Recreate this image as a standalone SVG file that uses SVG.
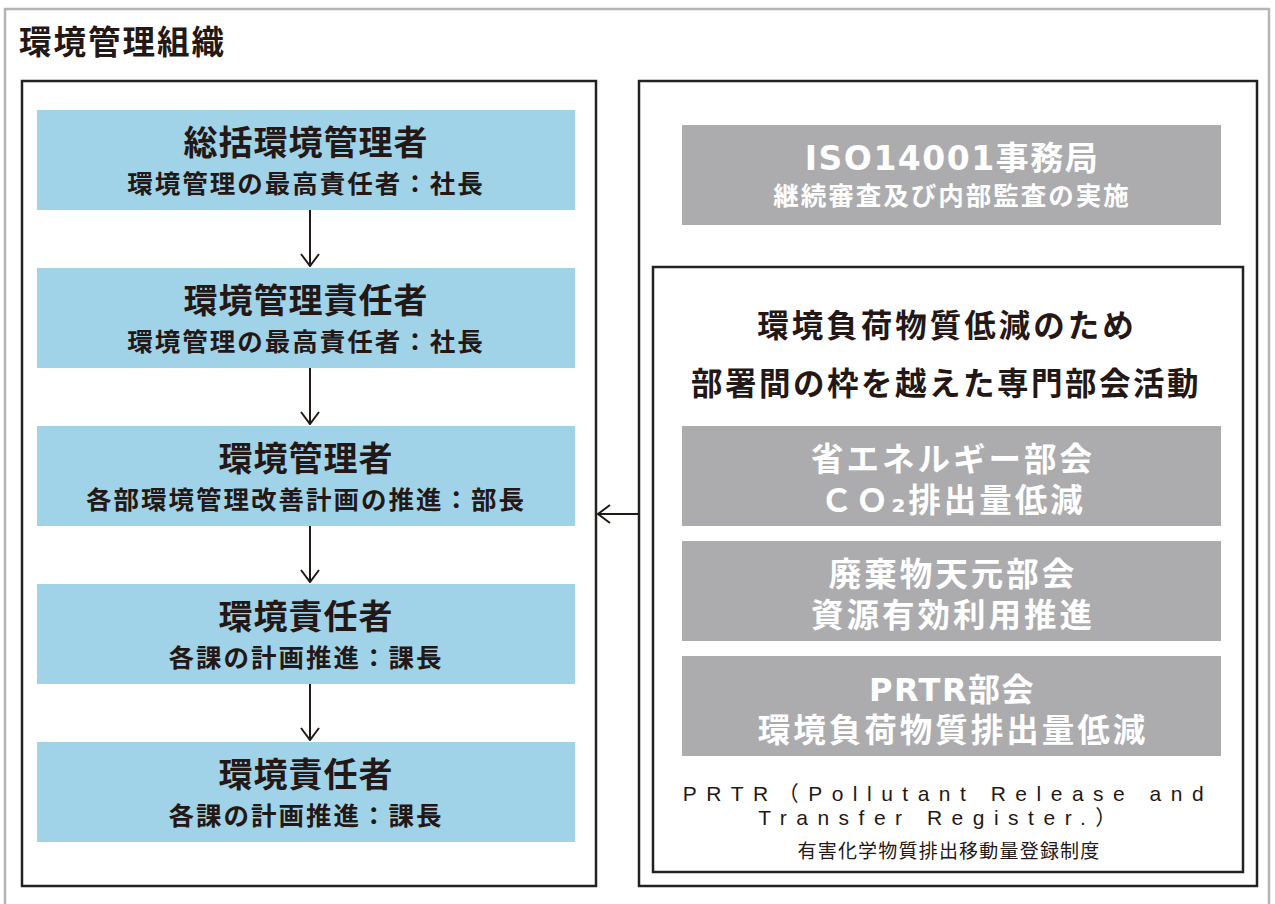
<svg xmlns="http://www.w3.org/2000/svg" width="1275" height="904" viewBox="0 0 1275 904">
<defs>
<style>
.frame{fill:none;stroke:#222;stroke-width:2.5}
.blue{fill:#a0d3e8}
.gray{fill:#acacae}
.t{font-family:"DejaVu Sans","Noto Sans CJK JP",sans-serif;font-weight:bold;text-anchor:middle}
.h1{font-size:34px;letter-spacing:1px}
.h2{font-size:25.5px;letter-spacing:2px}
.g1{font-size:32.5px;letter-spacing:3px}
.dk{fill:#231815}
.wh{fill:#ffffff}
.conn{stroke:#231815;stroke-width:2;fill:none}
</style>
<marker id="ah" viewBox="0 0 14 20" refX="13" refY="10" markerWidth="14" markerHeight="20" markerUnits="userSpaceOnUse" orient="auto">
<path d="M1,1 L13,10 L1,19" fill="none" stroke="#231815" stroke-width="2"/>
</marker>
</defs>
<rect x="0" y="0" width="1275" height="904" fill="#fff"/>
<rect x="5" y="9" width="1264" height="900" fill="none" stroke="#b5b5b5" stroke-width="2.5"/>
<text x="19" y="54" class="t dk" style="text-anchor:start;font-size:32.5px;letter-spacing:2px">環境管理組織</text>
<rect x="22" y="81" width="574" height="805" class="frame"/>
<rect x="639" y="81" width="618" height="805" class="frame"/>
<rect x="653" y="267" width="590" height="605" class="frame"/>

<g id="n1"><rect x="37" y="110" width="538" height="100" class="blue"/>
<text x="306" y="155" class="t dk h1">総括環境管理者</text>
<text x="306" y="193" class="t dk h2">環境管理の最高責任者：社長</text></g>
<g id="n2"><rect x="37" y="268" width="538" height="100" class="blue"/>
<text x="306" y="313" class="t dk h1">環境管理責任者</text>
<text x="306" y="351" class="t dk h2">環境管理の最高責任者：社長</text></g>
<g id="n3"><rect x="37" y="426" width="538" height="100" class="blue"/>
<text x="306" y="471" class="t dk h1">環境管理者</text>
<text x="306" y="509" class="t dk h2">各部環境管理改善計画の推進：部長</text></g>
<g id="n4"><rect x="37" y="584" width="538" height="100" class="blue"/>
<text x="306" y="629" class="t dk h1">環境責任者</text>
<text x="306" y="667" class="t dk h2">各課の計画推進：課長</text></g>
<g id="n5"><rect x="37" y="742" width="538" height="100" class="blue"/>
<text x="306" y="787" class="t dk h1">環境責任者</text>
<text x="306" y="825" class="t dk h2">各課の計画推進：課長</text></g>

<g id="iso"><rect x="682" y="125" width="539" height="100" class="gray"/>
<text x="952" y="170" class="t wh" style="font-size:33px;letter-spacing:1.5px">ISO14001事務局</text>
<text x="952" y="205" class="t wh h2">継続審査及び内部監査の実施</text></g>

<g id="committee">
<text x="947" y="337" class="t dk" style="font-size:31.5px;letter-spacing:3px">環境負荷物質低減のため</text>
<text x="946" y="395" class="t dk" style="font-size:31.5px;letter-spacing:2.5px">部署間の枠を越えた専門部会活動</text>
</g>
<g id="g1"><rect x="682" y="426" width="539" height="100" class="gray"/>
<text x="953" y="471" class="t wh g1">省エネルギー部会</text>
<text x="953" y="512" class="t wh g1">ＣＯ₂排出量低減</text></g>
<g id="g2"><rect x="682" y="541" width="539" height="100" class="gray"/>
<text x="953" y="586" class="t wh g1">廃棄物天元部会</text>
<text x="953" y="627" class="t wh g1">資源有効利用推進</text></g>
<g id="g3"><rect x="682" y="656" width="539" height="100" class="gray"/>
<text x="952" y="701" class="t wh" style="font-size:32px;letter-spacing:1.5px">PRTR部会</text>
<text x="953" y="742" class="t wh g1">環境負荷物質排出量低減</text></g>

<g id="note" font-family="'Liberation Sans','Noto Sans CJK JP',sans-serif" fill="#231815" text-anchor="middle">
<text x="948" y="801" font-size="21" letter-spacing="9.5">PRTR（Pollutant Release and</text>
<text x="942" y="825" font-size="21" letter-spacing="9.5">Transfer Register.）</text>
<text x="949" y="858" font-size="19" letter-spacing="1.2" font-family="'Noto Sans CJK JP',sans-serif">有害化学物質排出移動量登録制度</text>
</g>

<g id="connectors">
<line x1="310" y1="210" x2="310" y2="266" class="conn" marker-end="url(#ah)"/>
<line x1="310" y1="368" x2="310" y2="424" class="conn" marker-end="url(#ah)"/>
<line x1="310" y1="526" x2="310" y2="582" class="conn" marker-end="url(#ah)"/>
<line x1="310" y1="684" x2="310" y2="740" class="conn" marker-end="url(#ah)"/>
<line x1="638" y1="514" x2="598" y2="514" class="conn" marker-end="url(#ah)"/>
</g>
</svg>
